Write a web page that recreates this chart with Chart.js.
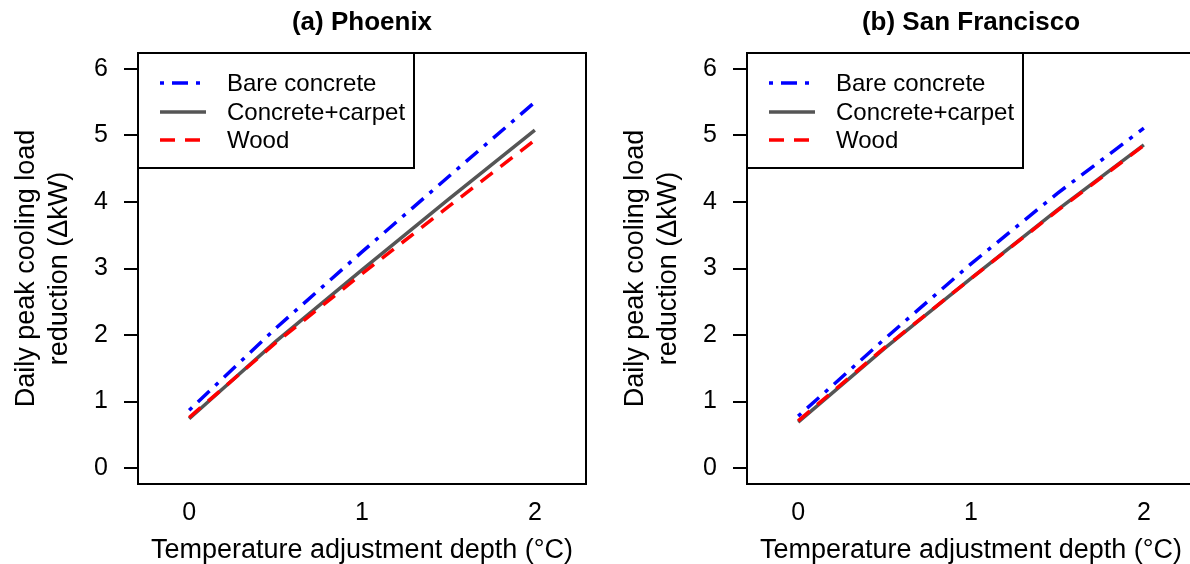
<!DOCTYPE html>
<html>
<head>
<meta charset="utf-8">
<script src="https://cdn.jsdelivr.net/npm/chart.js@4.4.0/dist/chart.umd.min.js"></script>
<style>
    html, body { margin: 0; padding: 0; background: #fff; overflow: hidden; width: 1190px; height: 564px; }
    .panel { position: absolute; top: 0; width: 595px; height: 564px; }
    #p1 { left: 0; }
    #p2 { left: 609px; }
</style>
</head>
<body>
<div class="panel" id="p1"><canvas id="phoenixChart" width="595" height="564"></canvas></div>
<div class="panel" id="p2"><canvas id="sfChart" width="595" height="564"></canvas></div>
<script>
// Data
const depth = [0, 0.5, 1, 1.5, 2];
const xTicks = [0, 1, 2];
const yTicks = [0, 1, 2, 3, 4, 5, 6];
const seriesNames = ["Bare concrete", "Concrete+carpet", "Wood"];

const phoenixBare = [0.87, 2.10, 3.25, 4.38, 5.50];
const phoenixCarpet = [0.74, 1.90, 2.98, 4.04, 5.08];
const phoenixWood = [0.76, 1.88, 2.92, 3.93, 4.93];

const sfBare = [0.78, 1.94, 3.07, 4.13, 5.11];
const sfCarpet = [0.69, 1.80, 2.85, 3.88, 4.86];
const sfWood = [0.71, 1.81, 2.85, 3.87, 4.85];

const xTitle = "Temperature adjustment depth (°C)";
const yTitle = ["Daily peak cooling load", "reduction (\u0394kW)"];

Chart.defaults.font.family = "'Liberation Sans', Arial, sans-serif";
Chart.defaults.color = "#000";

const styles = [
    { color: "#0000ff", dash: [4, 8, 16, 8], order: 2 },
    { color: "#555555", dash: [], order: 1 },
    { color: "#ff0000", dash: [15, 10], order: 0 }
];

// box around the plot, legend in the top-left corner, panel title
const framePlugin = {
    id: "frame",
    afterDatasetsDraw(chart, args, opts) {
        const ctx = chart.ctx;
        const a = chart.chartArea;
        ctx.save();
        ctx.strokeStyle = "#000";
        ctx.lineWidth = 2;
        ctx.strokeRect(a.left, a.top, a.right - a.left, a.bottom - a.top);

        // legend
        const lw = 276, lh = 115;
        ctx.fillStyle = "#fff";
        ctx.fillRect(a.left, a.top, lw, lh);
        ctx.strokeRect(a.left, a.top, lw, lh);
        const rows = [30, 59, 87];
        ctx.font = "24px 'Liberation Sans', Arial, sans-serif";
        ctx.textBaseline = "middle";
        ctx.textAlign = "left";
        seriesNames.forEach((name, i) => {
            const y = a.top + rows[i];
            ctx.strokeStyle = styles[i].color;
            ctx.lineWidth = 3.5;
            ctx.setLineDash(styles[i].dash);
            ctx.beginPath();
            ctx.moveTo(a.left + 22, y);
            ctx.lineTo(a.left + 68, y);
            ctx.stroke();
            ctx.setLineDash([]);
            ctx.fillStyle = "#000";
            ctx.fillText(name, a.left + 89, y + 1);
        });

        // title
        ctx.font = "bold 26px 'Liberation Sans', Arial, sans-serif";
        ctx.textAlign = "center";
        ctx.fillText(opts.text, (a.left + a.right) / 2, 23);
        ctx.restore();
    }
};

function makeChart(id, title, values) {
    new Chart(document.getElementById(id), {
        type: "line",
        data: {
            labels: depth,
            datasets: values.map((v, i) => ({
                label: seriesNames[i],
                data: depth.map((d, j) => ({ x: d, y: v[j] })),
                borderColor: styles[i].color,
                borderDash: styles[i].dash,
                borderWidth: 3.5,
                pointRadius: 0,
                fill: false,
                tension: 0,
                order: styles[i].order
            }))
        },
        options: {
            responsive: false,
            animation: false,
            layout: { padding: { top: 53, right: 9, left: 0, bottom: 0 } },
            plugins: {
                legend: { display: false },
                tooltip: { enabled: false },
                frame: { text: title }
            },
            scales: {
                x: {
                    type: "linear",
                    min: -0.296,
                    max: 2.296,
                    afterBuildTicks: s => { s.ticks = xTicks.map(v => ({ value: v })); },
                    afterFit: s => { s.height = 80; },
                    grid: { display: false },
                    border: { display: false },
                    ticks: { font: { size: 25 }, padding: 6, maxRotation: 0 },
                    title: { display: true, text: xTitle, font: { size: 27, lineHeight: 1 }, padding: 0 }
                },
                y: {
                    min: -0.24,
                    max: 6.24,
                    afterBuildTicks: s => { s.ticks = yTicks.map(v => ({ value: v })); },
                    afterFit: s => { s.width = 138; },
                    grid: { drawOnChartArea: false, drawTicks: true, tickLength: 14, tickColor: "#000", lineWidth: 2 },
                    border: { display: false },
                    ticks: { font: { size: 25 }, padding: 16 },
                    title: { display: true, text: yTitle, font: { size: 27, lineHeight: 1.22 }, padding: { top: 10, bottom: 0 } }
                }
            }
        },
        plugins: [framePlugin]
    });
}

makeChart("phoenixChart", "(a) Phoenix", [phoenixBare, phoenixCarpet, phoenixWood]);
makeChart("sfChart", "(b) San Francisco", [sfBare, sfCarpet, sfWood]);
</script>
</body>
</html>
